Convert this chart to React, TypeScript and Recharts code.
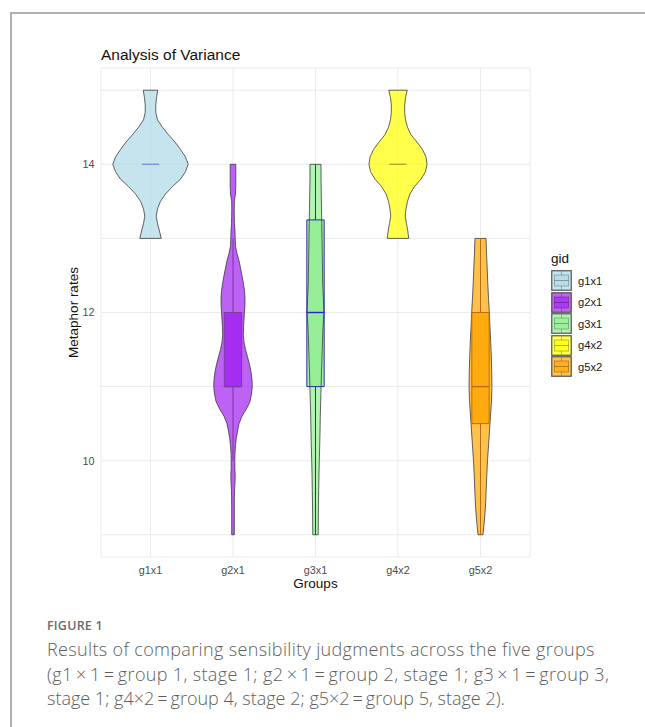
import { ComposedChart, Area, Line, XAxis, YAxis, CartesianGrid } from 'recharts';

const GROUPS = ['g1x1', 'g2x1', 'g3x1', 'g4x2', 'g5x2'];
const FILLS = ['#add8e6', '#a020f0', '#90ee90', '#ffff00', '#ffa500'];
const BOX_STROKES = ['#7f8fd8', '#7b3aa6', '#2a2ab0', '#b3a62a', '#b86f10'];

// violin outlines: rating level (top -> bottom) and half width in group units
const G1_LEVELS = [15.0, 14.9, 14.8, 14.7, 14.6, 14.5, 14.4, 14.3, 14.2, 14.1, 14.0, 13.9, 13.8, 13.7, 13.6, 13.5, 13.4, 13.3, 13.2, 13.1, 13.0];
const G1_HALF = [0.088, 0.073, 0.064, 0.064, 0.085, 0.145, 0.218, 0.297, 0.364, 0.424, 0.457, 0.424, 0.364, 0.267, 0.182, 0.121, 0.085, 0.069, 0.085, 0.109, 0.13];

const G2_LEVELS = [
  14.0, 13.9, 13.8, 13.7, 13.6, 13.5, 13.4, 13.3, 13.2, 13.1,
  13.0, 12.9, 12.8, 12.7, 12.6, 12.5, 12.4, 12.3, 12.2, 12.1,
  12.0, 11.9, 11.8, 11.7, 11.6, 11.5, 11.4, 11.3, 11.2, 11.1,
  11.0, 10.9, 10.8, 10.7, 10.6, 10.5, 10.4, 10.3, 10.2, 10.1,
  10.0, 9.9, 9.8, 9.7, 9.6, 9.5, 9.4, 9.3, 9.2, 9.1, 9.0,
];
const G2_HALF = [
  0.034, 0.034, 0.034, 0.034, 0.03, 0.016, 0.015, 0.016, 0.018, 0.024,
  0.027, 0.03, 0.048, 0.073, 0.091, 0.109, 0.125, 0.139, 0.145, 0.145,
  0.139, 0.133, 0.128, 0.125, 0.133, 0.152, 0.176, 0.2, 0.218, 0.23,
  0.234, 0.224, 0.206, 0.164, 0.109, 0.073, 0.055, 0.04, 0.03, 0.024,
  0.022, 0.022, 0.027, 0.024, 0.019, 0.017, 0.016, 0.016, 0.016, 0.016, 0.016,
];

const G3_LEVELS = [14.0, 13.8, 13.6, 13.4, 13.2, 13.0, 12.8, 12.6, 12.4, 12.2, 12.0, 11.8, 11.6, 11.4, 11.2, 11.0, 10.8, 10.6, 10.4, 10.2, 10.0, 9.8, 9.6, 9.4, 9.2, 9.0];
const G3_HALF = [0.067, 0.067, 0.07, 0.073, 0.076, 0.079, 0.082, 0.085, 0.087, 0.095, 0.103, 0.091, 0.085, 0.079, 0.073, 0.068, 0.063, 0.058, 0.055, 0.051, 0.046, 0.042, 0.039, 0.036, 0.034, 0.033];

const G4_LEVELS = [15.0, 14.9, 14.8, 14.7, 14.6, 14.5, 14.4, 14.3, 14.2, 14.1, 14.0, 13.9, 13.8, 13.7, 13.6, 13.5, 13.4, 13.3, 13.2, 13.1, 13.0];
const G4_HALF = [0.112, 0.091, 0.081, 0.081, 0.091, 0.115, 0.158, 0.23, 0.297, 0.339, 0.352, 0.333, 0.279, 0.2, 0.145, 0.115, 0.097, 0.088, 0.103, 0.119, 0.13];

const G5_LEVELS = [13.0, 12.8, 12.6, 12.4, 12.2, 12.0, 11.8, 11.6, 11.4, 11.2, 11.0, 10.8, 10.6, 10.4, 10.2, 10.0, 9.8, 9.6, 9.4, 9.2, 9.0];
const G5_HALF = [0.067, 0.073, 0.081, 0.088, 0.097, 0.107, 0.115, 0.124, 0.131, 0.136, 0.139, 0.133, 0.121, 0.109, 0.097, 0.085, 0.076, 0.069, 0.061, 0.048, 0.03];

const LEVELS = [G1_LEVELS, G2_LEVELS, G3_LEVELS, G4_LEVELS, G5_LEVELS];
const HALVES = [G1_HALF, G2_HALF, G3_HALF, G4_HALF, G5_HALF];

// boxplot summaries per group
const Q1 = [14, 11, 11, 14, 10.5];
const MEDIAN = [14, 11, 12, 14, 11];
const Q3 = [14, 12, 13.25, 14, 12];
const WHISKER_LO = [14, 10, 9, 14, 9];
const WHISKER_HI = [14, 13, 14, 14, 13];

const Y_TICKS = [9, 10, 11, 12, 13, 14, 15];
const X_TICKS = [1, 2, 3, 4, 5];
const BOX_HALF = 0.105;

const FONT = '"Liberation Sans", Arial, sans-serif';

const series = GROUPS.map((name, i) => {
  const c = i + 1;
  const levels = LEVELS[i];
  const half = HALVES[i];
  const violinFill = levels.map((y, k) => ({ y, range: [c - half[k], c + half[k]] }));
  const right = levels.map((y, k) => ({ y, x: c + half[k] }));
  const left = levels.map((y, k) => ({ y, x: c - half[k] })).reverse();
  const violinLine = [...right, ...left, right[0]];
  const boxFill = [
    { y: Q3[i], range: [c - BOX_HALF, c + BOX_HALF] },
    { y: Q1[i], range: [c - BOX_HALF, c + BOX_HALF] },
  ];
  const boxLine = [
    { y: Q3[i], x: c - BOX_HALF },
    { y: Q3[i], x: c + BOX_HALF },
    { y: Q1[i], x: c + BOX_HALF },
    { y: Q1[i], x: c - BOX_HALF },
    { y: Q3[i], x: c - BOX_HALF },
  ];
  const median = [
    { y: MEDIAN[i], x: c - BOX_HALF },
    { y: MEDIAN[i], x: c + BOX_HALF },
  ];
  const upper = [{ y: Q3[i], x: c }, { y: WHISKER_HI[i], x: c }];
  const lower = [{ y: Q1[i], x: c }, { y: WHISKER_LO[i], x: c }];
  return { name, violinFill, violinLine, boxFill, boxLine, median, upper, lower, hasBox: Q3[i] > Q1[i] };
});

function LegendKey({ color }: { color: string }) {
  return (
    <svg width={21} height={21}>
      <rect x={0.75} y={0.75} width={19.5} height={19.5} fill={color} fillOpacity={0.7} stroke="#555" strokeWidth={1.2} />
      <line x1={10.5} y1={1.5} x2={10.5} y2={5} stroke="rgba(0,0,0,0.25)" />
      <line x1={10.5} y1={16} x2={10.5} y2={19.5} stroke="rgba(0,0,0,0.25)" />
      <rect x={3.5} y={5} width={14} height={11} fill={color} fillOpacity={0.6} stroke="rgba(0,0,0,0.25)" />
      <line x1={3.5} y1={10.5} x2={17.5} y2={10.5} stroke="rgba(0,0,0,0.3)" />
    </svg>
  );
}

export default function App() {
  return (
    <div style={{ position: 'fixed', left: 0, top: 0, width: 645, height: 727, overflow: 'hidden', background: '#fff' }}>
      <div
        style={{
          position: 'absolute',
          left: 10,
          top: 12,
          width: 700,
          height: 760,
          borderTop: '2px solid #b0b0b0',
          borderLeft: '2px solid #b0b0b0',
        }}
      />
      <div style={{ position: 'absolute', left: 101, top: 46, font: `15.5px ${FONT}`, lineHeight: '18px', color: '#111' }}>
        Analysis of Variance
      </div>

      <div style={{ position: 'absolute', left: 0, top: 0 }}>
        <ComposedChart
          width={645}
          height={600}
          layout="vertical"
          margin={{ top: 68, right: 115, bottom: 3, left: 45 }}
          style={{ fontFamily: FONT }}
        >
          <CartesianGrid stroke="#ebebeb" strokeWidth={1} />
          <XAxis
            type="number"
            dataKey="x"
            domain={[0.4, 5.6]}
            ticks={X_TICKS}
            interval={0}
            allowDataOverflow
            tickFormatter={(v: number) => GROUPS[v - 1]}
            tickLine={false}
            axisLine={false}
            tickMargin={3}
            height={40}
            tick={{ fill: '#4d4d4d', fontSize: 10.8 }}
            label={{ value: 'Groups', position: 'insideBottom', offset: 9, fill: '#111', fontSize: 13.5 }}
          />
          <YAxis
            type="number"
            dataKey="y"
            domain={[8.7, 15.3]}
            ticks={Y_TICKS}
            interval={0}
            reversed
            allowDataOverflow
            tickFormatter={(v: number) => (v % 2 === 0 ? String(v) : '')}
            tickLine={false}
            axisLine={false}
            tickSize={4}
            tickMargin={2.5}
            width={56}
            tick={{ fill: '#4d4d4d', fontSize: 10.8 }}
            label={{ value: 'Metaphor rates', angle: -90, position: 'center', fill: '#111', fontSize: 13.5 }}
          />

          {series.map((s, i) => [
            <Area
              key={`vf-${s.name}`}
              data={s.violinFill}
              dataKey="range"
              type="linear"
              stroke="none"
              fill={FILLS[i]}
              fillOpacity={0.7}
              dot={false}
              activeDot={false}
              isAnimationActive={false}
            />,
            <Line
              key={`vl-${s.name}`}
              data={s.violinLine}
              dataKey="x"
              type="linear"
              stroke="#333"
              strokeWidth={0.9}
              strokeOpacity={0.85}
              dot={false}
              activeDot={false}
              isAnimationActive={false}
            />,
            s.hasBox && (
              <Line
                key={`wu-${s.name}`}
                data={s.upper}
                dataKey="x"
                type="linear"
                stroke={BOX_STROKES[i]}
                strokeWidth={1}
                dot={false}
                activeDot={false}
                isAnimationActive={false}
              />
            ),
            s.hasBox && (
              <Line
                key={`wl-${s.name}`}
                data={s.lower}
                dataKey="x"
                type="linear"
                stroke={BOX_STROKES[i]}
                strokeWidth={1}
                dot={false}
                activeDot={false}
                isAnimationActive={false}
              />
            ),
            s.hasBox && (
              <Area
                key={`bf-${s.name}`}
                data={s.boxFill}
                dataKey="range"
                type="linear"
                stroke="none"
                fill={FILLS[i]}
                fillOpacity={0.8}
                dot={false}
                activeDot={false}
                isAnimationActive={false}
              />
            ),
            s.hasBox && (
              <Line
                key={`bl-${s.name}`}
                data={s.boxLine}
                dataKey="x"
                type="linear"
                stroke={BOX_STROKES[i]}
                strokeWidth={1}
                dot={false}
                activeDot={false}
                isAnimationActive={false}
              />
            ),
            <Line
              key={`md-${s.name}`}
              data={s.median}
              dataKey="x"
              type="linear"
              stroke={BOX_STROKES[i]}
              strokeWidth={1.4}
              dot={false}
              activeDot={false}
              isAnimationActive={false}
            />,
          ])}
        </ComposedChart>
      </div>

      {/* legend */}
      <div style={{ position: 'absolute', left: 551, top: 251, font: `13.5px ${FONT}`, color: '#111', lineHeight: '16px' }}>
        gid
      </div>
      <div style={{ position: 'absolute', left: 551, top: 270 }}>
        {GROUPS.map((g, i) => (
          <div key={g} style={{ display: 'flex', alignItems: 'center', height: 21.5 }}>
            <LegendKey color={FILLS[i]} />
            <span style={{ marginLeft: 6, font: `11.2px ${FONT}`, color: '#1a1a1a' }}>{g}</span>
          </div>
        ))}
      </div>

      {/* caption */}
      <div
        style={{
          position: 'absolute',
          left: 47,
          top: 618,
          font: `600 12.5px "Open Sans", sans-serif`,
          lineHeight: '15px',
          color: '#6a6a6a',
          letterSpacing: 0.2,
        }}
      >
        FIGURE 1
      </div>
      <div
        style={{
          position: 'absolute',
          left: 47,
          top: 637,
          font: `300 18px "Open Sans", sans-serif`,
          lineHeight: '24.5px',
          color: '#5e5e5e',
          whiteSpace: 'nowrap',
          letterSpacing: 0.35,
        }}
      >
        <div>Results of comparing sensibility judgments across the five groups</div>
        <div>(g1{'\u2009×\u2009'}1{'\u2009=\u2009'}group 1, stage 1; g2{'\u2009×\u2009'}1{'\u2009=\u2009'}group 2, stage 1; g3{'\u2009×\u2009'}1{'\u2009=\u2009'}group 3,</div>
        <div style={{ letterSpacing: 0 }}>stage 1; g4×2{'\u2009=\u2009'}group 4, stage 2; g5×2{'\u2009=\u2009'}group 5, stage 2).</div>
      </div>
    </div>
  );
}
